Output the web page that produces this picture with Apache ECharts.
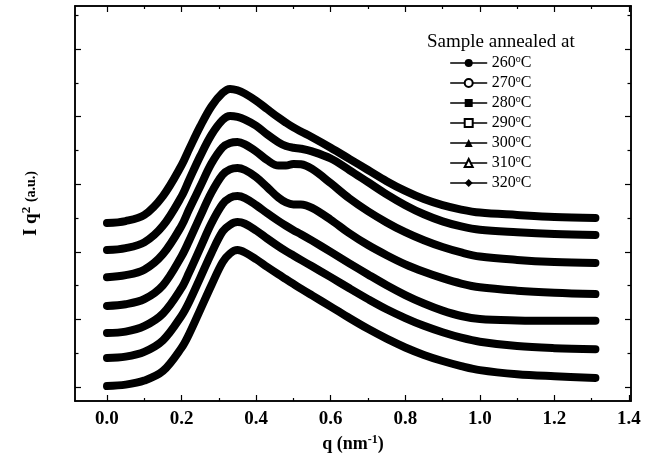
<!DOCTYPE html>
<html>
<head>
<meta charset="utf-8">
<script src="https://cdn.jsdelivr.net/npm/echarts@6/dist/echarts.min.js"></script>
<style>
html,body{margin:0;padding:0;background:#fff;}
#chart{width:650px;height:461px;}
</style>
</head>
<body>
<div id="chart"></div>
<script>
// q values (nm^-1) at which the curves were read
const qValues = [0, 0.05, 0.1, 0.15, 0.2, 0.22, 0.25, 0.28, 0.31, 0.33, 0.35, 0.37, 0.4, 0.43, 0.46, 0.48, 0.5, 0.52, 0.55, 0.6, 0.65, 0.7, 0.75, 0.8, 0.85, 0.9, 0.95, 1.0, 1.1, 1.2, 1.31];
// I q^2 (a.u., curves shifted vertically as in the original)
const y260 = [0.03, 0.07, 0.19, 0.47, 1.16, 1.56, 2.28, 3.01, 3.69, 3.95, 4.05, 3.98, 3.78, 3.55, 3.33, 3.19, 3.05, 2.91, 2.71, 2.38, 2.04, 1.72, 1.43, 1.17, 0.95, 0.77, 0.62, 0.50, 0.38, 0.32, 0.27];
const y270 = [0.86, 0.90, 1.04, 1.38, 2.11, 2.51, 3.23, 3.96, 4.60, 4.80, 4.88, 4.83, 4.63, 4.39, 4.16, 4.02, 3.89, 3.76, 3.57, 3.25, 2.92, 2.60, 2.30, 2.04, 1.81, 1.62, 1.46, 1.34, 1.21, 1.15, 1.12];
const y280 = [1.60, 1.64, 1.80, 2.17, 2.93, 3.38, 4.11, 4.84, 5.41, 5.60, 5.65, 5.59, 5.38, 5.14, 4.91, 4.77, 4.64, 4.52, 4.33, 4.00, 3.66, 3.33, 3.01, 2.72, 2.47, 2.26, 2.10, 2.01, 1.97, 1.96, 1.96];
const y290 = [2.40, 2.45, 2.60, 3.01, 3.87, 4.32, 5.05, 5.75, 6.28, 6.44, 6.48, 6.42, 6.21, 5.91, 5.60, 5.46, 5.40, 5.40, 5.30, 4.95, 4.55, 4.20, 3.90, 3.63, 3.41, 3.22, 3.06, 2.95, 2.85, 2.79, 2.75];
const y300 = [3.25, 3.31, 3.47, 3.93, 4.77, 5.25, 5.93, 6.61, 7.09, 7.22, 7.25, 7.18, 6.97, 6.71, 6.55, 6.55, 6.60, 6.59, 6.45, 6.03, 5.58, 5.20, 4.87, 4.58, 4.34, 4.14, 3.98, 3.86, 3.76, 3.70, 3.67];
const y310 = [4.05, 4.11, 4.28, 4.77, 5.64, 6.12, 6.83, 7.46, 7.90, 8.02, 7.99, 7.91, 7.73, 7.47, 7.24, 7.13, 7.08, 7.05, 6.97, 6.76, 6.42, 6.06, 5.70, 5.38, 5.11, 4.90, 4.75, 4.65, 4.58, 4.53, 4.50];
const y320 = [4.85, 4.91, 5.09, 5.65, 6.56, 7.03, 7.71, 8.30, 8.70, 8.82, 8.78, 8.68, 8.47, 8.22, 7.97, 7.82, 7.68, 7.56, 7.39, 7.08, 6.75, 6.42, 6.09, 5.80, 5.56, 5.38, 5.25, 5.16, 5.09, 5.03, 5.00];

const seriesNames = ['260°C', '270°C', '280°C', '290°C', '300°C', '310°C', '320°C'];
const seriesValues = [y260, y270, y280, y290, y300, y310, y320];
const seriesSymbols = ['circle', 'emptyCircle', 'rect', 'emptyRect', 'triangle', 'emptyTriangle', 'diamond'];

const xMajorTicks = [0, 0.2, 0.4, 0.6, 0.8, 1.0, 1.2, 1.4];
const xMinorTicks = [0.1, 0.3, 0.5, 0.7, 0.9, 1.1, 1.3];
const yMajorTicks = [0, 2, 4, 6, 8, 10];
const yMinorTicks = [1, 3, 5, 7, 9, 11];

const legendTitle = 'Sample annealed at';
const xName = 'q (nm{s|-1})';
const yName = 'I q{s|2} {a|(a.u.)}';

const FONT = '"Liberation Serif", "Times New Roman", serif';
const X_MIN = -0.0858, X_MAX = 1.4054, Y_MIN = -0.414, Y_MAX = 11.272;

function axisBase(extra) {
  return Object.assign({
    type: 'value',
    axisLine: { show: true, onZero: false, lineStyle: { color: '#000', width: 1.5 } },
    splitLine: { show: false },
    axisLabel: { show: false },
  }, extra);
}

const chart = echarts.init(document.getElementById('chart'), null, { renderer: 'canvas' });

const option = {
  animation: false,
  backgroundColor: '#fff',
  title: {
    text: legendTitle,
    left: 427, top: 33, padding: 0,
    textStyle: { fontFamily: FONT, fontSize: 19, fontWeight: 'normal', color: '#000' }
  },
  legend: {
    orient: 'vertical',
    left: 450, top: 54, padding: 0,
    itemWidth: 36, itemHeight: 10, itemGap: 2,
    data: seriesNames,
    formatter: n => n.replace('°', '{s|o}'),
    lineStyle: { width: 1.4, color: '#000' },
    itemStyle: { color: '#000', borderColor: '#000' },
    textStyle: {
      fontFamily: FONT, fontSize: 16, color: '#000', lineHeight: 18,
      rich: { s: { fontFamily: FONT, fontSize: 10, lineHeight: 10, verticalAlign: 'top', color: '#000' } }
    }
  },
  grid: [
    { left: 75, right: 19, top: 6, bottom: 60, containLabel: false },
    { left: 75, right: 19, top: 6, bottom: 60, containLabel: false }
  ],
  xAxis: [
    axisBase({
      gridIndex: 0, position: 'bottom', min: X_MIN, max: X_MAX,
      axisTick: { show: true, inside: true, length: 6, customValues: xMajorTicks, lineStyle: { color: '#000', width: 1.2 } },
      axisLabel: { show: true, customValues: xMajorTicks, formatter: v => v.toFixed(1), margin: 9,
        fontFamily: FONT, fontSize: 19, fontWeight: 'bold', color: '#000' },
      name: xName, nameLocation: 'middle', nameGap: 33,
      nameTextStyle: { fontFamily: FONT, fontSize: 18, fontWeight: 'bold', color: '#000', lineHeight: 20,
        rich: { s: { fontFamily: FONT, fontSize: 12, fontWeight: 'bold', lineHeight: 12, verticalAlign: 'top', color: '#000' } } }
    }),
    axisBase({
      gridIndex: 0, position: 'top', min: X_MIN, max: X_MAX,
      axisTick: { show: true, inside: true, length: 6, customValues: xMajorTicks, lineStyle: { color: '#000', width: 1.2 } }
    }),
    axisBase({
      gridIndex: 1, position: 'bottom', min: X_MIN, max: X_MAX,
      axisTick: { show: true, inside: true, length: 3, customValues: xMinorTicks, lineStyle: { color: '#000', width: 1.2 } }
    }),
    axisBase({
      gridIndex: 1, position: 'top', min: X_MIN, max: X_MAX,
      axisTick: { show: true, inside: true, length: 3, customValues: xMinorTicks, lineStyle: { color: '#000', width: 1.2 } }
    })
  ],
  yAxis: [
    axisBase({
      gridIndex: 0, position: 'left', min: Y_MIN, max: Y_MAX,
      axisTick: { show: true, inside: true, length: 6, customValues: yMajorTicks, lineStyle: { color: '#000', width: 1.2 } },
      name: yName, nameLocation: 'middle', nameGap: 33, nameRotate: 90,
      nameTextStyle: { fontFamily: FONT, fontSize: 19, fontWeight: 'bold', color: '#000', lineHeight: 22,
        rich: {
          s: { fontFamily: FONT, fontSize: 13, fontWeight: 'bold', lineHeight: 13, verticalAlign: 'top', color: '#000' },
          a: { fontFamily: FONT, fontSize: 14, fontWeight: 'bold', lineHeight: 22, color: '#000' }
        } }
    }),
    axisBase({
      gridIndex: 0, position: 'right', min: Y_MIN, max: Y_MAX,
      axisTick: { show: true, inside: true, length: 6, customValues: yMajorTicks, lineStyle: { color: '#000', width: 1.2 } }
    }),
    axisBase({
      gridIndex: 1, position: 'left', min: Y_MIN, max: Y_MAX,
      axisTick: { show: true, inside: true, length: 3.5, customValues: yMinorTicks, lineStyle: { color: '#000', width: 1.2 } }
    }),
    axisBase({
      gridIndex: 1, position: 'right', min: Y_MIN, max: Y_MAX,
      axisTick: { show: true, inside: true, length: 3.5, customValues: yMinorTicks, lineStyle: { color: '#000', width: 1.2 } }
    })
  ],
  series: seriesNames.map((name, i) => ({
    name: name,
    type: 'line',
    xAxisIndex: 0,
    yAxisIndex: 0,
    data: qValues.map((q, j) => [q, seriesValues[i][j]]),
    smooth: 0.35,
    symbol: seriesSymbols[i],
    showSymbol: false,
    lineStyle: { color: '#000', width: 8, cap: 'round', join: 'round' },
    itemStyle: { color: '#000', borderColor: '#000' },
    emphasis: { disabled: true }
  }))
};
chart.setOption(option);
</script>
</body>
</html>
